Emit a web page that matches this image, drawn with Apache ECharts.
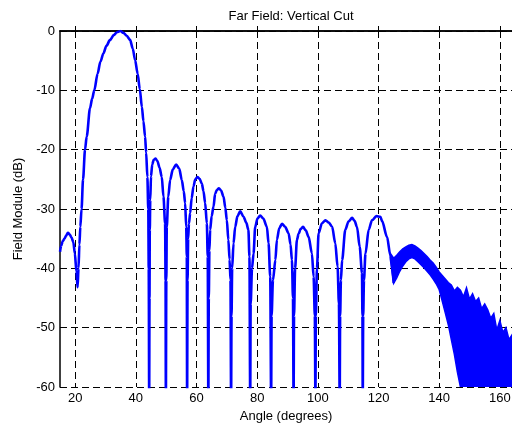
<!DOCTYPE html>
<html>
<head>
<meta charset="utf-8">
<script src="https://cdn.jsdelivr.net/npm/echarts@6/dist/echarts.min.js"></script>
<style>html,body{margin:0;padding:0;background:#fff;}#c{width:512px;height:424px;}</style>
</head>
<body>
<div id="c"></div>
<script>
// ---- data ----
const titleText = 'Far Field: Vertical Cut';
const xName = 'Angle (degrees)';
const yName = 'Field Module (dB)';
const xTicks = [20, 40, 60, 80, 100, 120, 140, 160];
const yTicks = [0, -10, -20, -30, -40, -50, -60];

// main trace: angle (deg) and field (dB)
const mainAngle = [
  15.0,15.4,15.9,16.5,17.0,17.6,18.2,18.8,19.4,19.9,20.4,20.8,21.1,21.4,21.7,22.1,22.6,23.25,23.8,24.9,25.6,26.3,27.4,28.3,29.3,30.3,31.5,32.7,33.8,34.9,35.9,37.0,38.1,39.0,39.75,40.6,41.3,42.0,42.5,43.05,43.4,43.8,44.1,44.25,44.4,
  44.5,44.6,44.75,45.0,45.4,45.9,46.5,47.1,47.8,48.55,49.1,49.65,49.8,49.9,
  50.05,50.2,50.7,51.3,52.2,53.3,54.3,55.15,55.8,56.25,56.6,56.8,56.9,
  57.05,57.25,57.5,57.9,58.4,59.0,59.6,60.3,61.0,61.75,62.3,62.85,63.4,63.7,63.9,
  64.05,64.25,64.5,65.0,65.6,66.15,66.7,67.4,68.1,68.9,69.5,70.0,70.5,70.9,71.2,71.4,
  71.55,71.75,72.2,72.75,73.5,74.4,75.5,76.4,77.1,77.45,77.7,
  77.85,78.3,78.8,79.35,80.1,81.0,82.0,83.2,83.75,84.3,84.6,
  84.75,85.2,86.0,86.5,87.3,88.2,89.2,90.35,91.0,91.45,91.8,92.0,
  92.15,92.5,93.1,93.65,94.3,95.1,96.0,96.95,98.05,98.6,99.0,99.2,
  99.35,99.7,100.25,101.35,102.5,103.6,104.7,105.75,106.5,106.95,107.2,
  107.35,107.6,108.0,109.05,110.1,111.3,112.1,112.9,113.8,114.55,114.7,114.8,
  114.95,115.2,115.7,116.75,117.85,119.3,120.6,121.15,122.8,123.9,125.0
];
const mainDb = [
  -37.2,-36.2,-35.4,-35.0,-34.5,-34.0,-34.3,-34.8,-35.6,-37.5,-40.5,-43.2,-40.0,-36.0,-33.0,-30.0,-25.0,-20.0,-17.8,-13.0,-11.4,-10.0,-7.2,-5.2,-3.8,-2.5,-1.5,-0.7,-0.2,0,-0.3,-0.8,-1.5,-3.0,-4.9,-7.2,-9.8,-12.8,-15.2,-17.8,-20.5,-24.6,-30.0,-40.0,-62,
  -45,-33.5,-28.5,-24.5,-22.5,-21.7,-21.5,-21.9,-23.0,-24.6,-27.9,-32.4,-42,-62,
  -42,-33,-27.9,-25.1,-23.3,-22.5,-23.2,-25.1,-27.0,-29.0,-33.0,-38.0,-62,
  -42,-35,-32.5,-30.7,-28.2,-26.2,-25.0,-24.6,-24.9,-25.7,-27.0,-29.0,-32.4,-38.0,-62,
  -45,-37,-33.5,-31.2,-29.6,-27.4,-26.8,-26.5,-26.9,-27.9,-29.8,-31.9,-35.2,-38.5,-42,-62,
  -48,-40,-35.8,-33.0,-31.2,-30.4,-31.3,-32.3,-33.5,-38,-62,
  -46,-40,-37.5,-33.0,-31.6,-31.1,-31.6,-33.0,-35.8,-41.4,-62,
  -48,-42,-38.6,-35.2,-33.2,-32.5,-33.0,-34.1,-36.0,-38.6,-45,-62,
  -48,-40,-35.2,-34.2,-33.4,-33.0,-33.6,-34.7,-37.5,-41.4,-48,-62,
  -48,-40,-34.1,-32.4,-31.9,-32.3,-33.0,-35.8,-39.7,-46,-62,
  -48,-42,-38.6,-33.5,-32.1,-31.5,-32.0,-33.0,-36.4,-40.8,-48,-62,
  -48,-42,-37.5,-33.5,-31.9,-31.2,-31.3,-32.0,-34.7,-37.8,-42.5
];

// noisy tail: upper and lower envelope of the blurred trace
const bandAngle = [123.9,125,126,127,128,129,130,131,132,133,134,135,136,137,138,139,140,141,142,143,144,145,146,147,148,149,150,151,152,153,154,155,156,157,158,159,160,161,162,163,164];
const bandUpper = [-37.5,-38.3,-37.8,-37.2,-36.7,-36.4,-36.1,-36.0,-36.2,-36.6,-37.0,-37.5,-38.0,-38.6,-39.1,-39.8,-40.6,-41.2,-41.8,-42.4,-42.8,-43.8,-43.2,-43.7,-44.8,-43.3,-45.2,-44.3,-45.6,-45.0,-46.8,-46.0,-47.0,-48.4,-47.6,-50.4,-48.8,-50.8,-50.0,-52.0,-51.2];
const bandLower = [-38.5,-42.5,-41.6,-40.5,-39.6,-38.9,-38.4,-38.2,-38.4,-38.9,-39.4,-39.9,-40.5,-41.1,-41.8,-42.6,-43.6,-45.5,-47.5,-49.5,-52.0,-54.5,-57.5,-60,-60,-60,-60,-60,-60,-60,-60,-60,-60,-60,-60,-60,-60,-60,-60,-60,-60];

// ---- chart ----
const BLUE = '#0000ff';
const FONT = 'Liberation Sans, Arial, sans-serif';
const chart = echarts.init(document.getElementById('c'), null, {renderer: 'canvas'});
const mainData = mainAngle.map((a, i) => [a, mainDb[i]]);
const bandData = bandAngle.map((a, i) => [a, bandUpper[i], bandLower[i]]);

const dashed = {show: true, lineStyle: {color: '#000', width: 1, type: [7, 4]}};
chart.setOption({
  animation: false,
  backgroundColor: '#fff',
  title: {
    text: titleText, left: 286, top: 5, textAlign: 'center',
    textStyle: {fontFamily: FONT, fontSize: 13, fontWeight: 'normal', color: '#000'}
  },
  grid: {left: 60, right: 0, top: 31, bottom: 37, containLabel: false, outerBoundsMode: 'none'},
  xAxis: [{
    type: 'value', min: 15, max: 164,
    name: xName, nameLocation: 'middle', nameGap: 22,
    nameTextStyle: {fontFamily: FONT, fontSize: 13, color: '#000'},
    axisLine: {show: true, lineStyle: {color: '#000', width: 1.5}},
    axisTick: {show: true, inside: true, length: 5, customValues: xTicks, lineStyle: {color: '#000'}},
    axisLabel: {show: true, customValues: xTicks, fontFamily: FONT, fontSize: 13, color: '#000', margin: 5},
    splitLine: dashed
  }, {
    type: 'value', min: 15, max: 164, position: 'top',
    axisLine: {show: true, lineStyle: {color: '#000', width: 1.5}},
    axisTick: {show: true, inside: true, length: 5, customValues: xTicks, lineStyle: {color: '#000'}},
    axisLabel: {show: false},
    splitLine: {show: false}
  }],
  yAxis: {
    type: 'value', min: -60, max: 0, interval: 10,
    name: yName, nameLocation: 'middle', nameGap: 29, nameRotate: 90,
    nameTextStyle: {fontFamily: FONT, fontSize: 13, color: '#000'},
    axisLine: {show: true, lineStyle: {color: '#000', width: 1.5}},
    axisTick: {show: true, inside: true, length: 5, lineStyle: {color: '#000'}},
    axisLabel: {fontFamily: FONT, fontSize: 13, color: '#000', margin: 5},
    splitLine: dashed
  },
  series: [{
    type: 'line', data: mainData, showSymbol: false, symbol: 'none',
    smooth: 0.3, smoothMonotone: 'x',
    lineStyle: {color: BLUE, width: 2.6}, clip: true, z: 3
  }, {
    type: 'custom', data: bandData, clip: true, z: 3,
    encode: {x: 0, y: [1, 2]},
    renderItem: function (params, api) {
      if (params.dataIndex !== 0) return {type: 'group', children: []};
      const pts = [];
      for (let i = 0; i < bandAngle.length; i++) pts.push(api.coord([bandAngle[i], bandUpper[i]]));
      for (let i = bandAngle.length - 1; i >= 0; i--) pts.push(api.coord([bandAngle[i], bandLower[i]]));
      return {type: 'polygon', shape: {points: pts}, style: {fill: BLUE, stroke: BLUE, lineWidth: 1.5}};
    }
  }]
});
</script>
</body>
</html>
